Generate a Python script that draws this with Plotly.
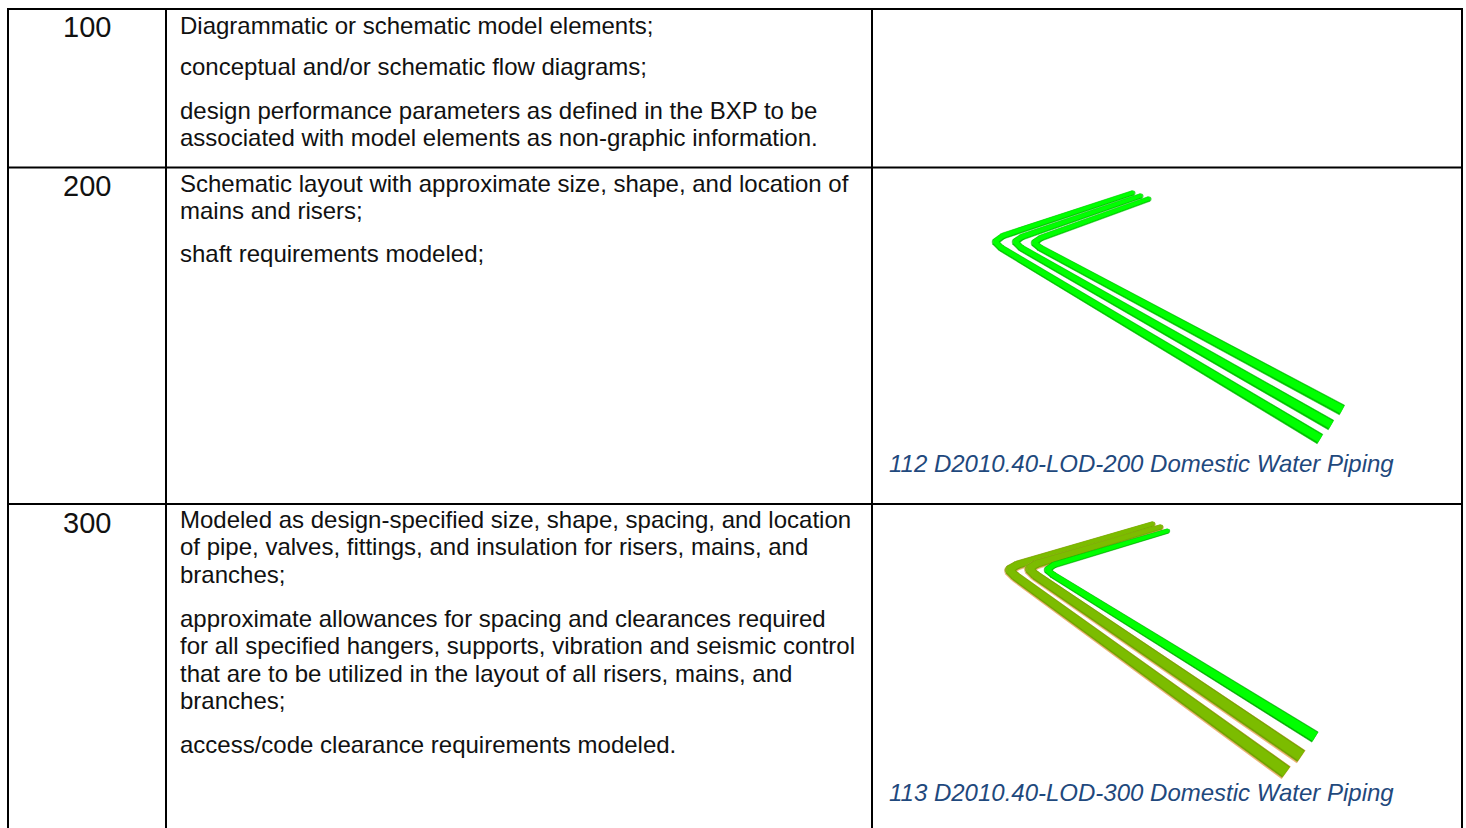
import plotly.graph_objects as go

W, H = 1466, 828
FONT = "Liberation Sans, Arial, sans-serif"

# table structure
border_x = [8, 166, 872, 1462]
border_y = [9, 167.5, 504]

levels = ["100", "200", "300"]
level_x = [87, 87, 87]
level_y = [27, 186, 523]

body_lines = [
    "Diagrammatic or schematic model elements;",
    "conceptual and/or schematic flow diagrams;",
    "design performance parameters as defined in the BXP to be",
    "associated with model elements as non-graphic information.",
    "Schematic layout with approximate size, shape, and location of",
    "mains and risers;",
    "shaft requirements modeled;",
    "Modeled as design-specified size, shape, spacing, and location",
    "of pipe, valves, fittings, and insulation for risers, mains, and",
    "branches;",
    "approximate allowances for spacing and clearances required",
    "for all specified hangers, supports, vibration and seismic control",
    "that are to be utilized in the layout of all risers, mains, and",
    "branches;",
    "access/code clearance requirements modeled.",
]
body_y = [25, 66, 110, 137, 183, 210, 253, 519, 546, 574, 618, 645, 673, 700, 744]

captions = ["112 D2010.40-LOD-200 Domestic Water Piping",
            "113 D2010.40-LOD-300 Domestic Water Piping"]
caption_y = [463, 792]

# pipes: centre-lines (start, before bend, bend, after bend, end) and widths there
pipes_200_x = [[1133, 1003, 995, 1001, 1320], [1141, 1022, 1015, 1021, 1331], [1149, 1041, 1034, 1040, 1342]]
pipes_200_y = [[193, 236, 242, 248, 439], [196, 237, 242, 248, 425], [199, 238, 243, 248, 410]]
pipes_200_w = [[5, 6, 6.5, 6.5, 11], [5, 6, 6.5, 6.5, 11], [5, 6, 6.5, 6.5, 11]]
pipes_300_x = [[1153, 1017, 1009, 1015, 1286], [1161, 1036, 1029, 1035, 1301], [1168, 1054, 1047, 1053, 1315]]
pipes_300_y = [[524, 565, 570, 576, 772], [527, 564, 569, 575, 756], [531, 565, 570, 575, 737]]
pipes_300_w = [[5.5, 9, 10, 10, 15], [5.5, 9, 10, 10, 15], [4.5, 6, 6.5, 6.5, 12]]
pipes_300_kind = ["olive", "olive", "green"]

GREEN_EDGE, GREEN_CORE = "#00bf00", "#00ff00"
OLIVE_EDGE, OLIVE_CORE, OLIVE_HALO = "#6fa000", "#7cbc00", "#e8b070"


def leg(x0, y0, w0, x1, y1, w1):
    dx, dy = x1 - x0, y1 - y0
    n = (dx * dx + dy * dy) ** 0.5
    nx, ny = -dy / n, dx / n
    return ([x0 + nx * w0 / 2, x1 + nx * w1 / 2, x1 - nx * w1 / 2, x0 - nx * w0 / 2, x0 + nx * w0 / 2],
            [y0 + ny * w0 / 2, y1 + ny * w1 / 2, y1 - ny * w1 / 2, y0 - ny * w0 / 2, y0 + ny * w0 / 2])


def tube(fig, px, py, pw, scale, color, shift=0):
    for i in range(len(px) - 1):
        x, y = leg(px[i], py[i], pw[i] * scale, px[i + 1], py[i + 1], pw[i + 1] * scale)
        fig.add_trace(go.Scatter(x=x, y=[v + shift for v in y], mode="lines",
                                 fill="toself", fillcolor=color,
                                 line=dict(color=color, width=0.5),
                                 hoverinfo="skip", showlegend=False))
    fig.add_trace(go.Scatter(x=px[:-1], y=[v + shift for v in py[:-1]], mode="markers",
                             marker=dict(color=color, line=dict(width=0),
                                         size=[w * scale for w in pw[:-1]]),
                             hoverinfo="skip", showlegend=False))


fig = go.Figure()

for px, py, pw in zip(pipes_200_x, pipes_200_y, pipes_200_w):
    tube(fig, px, py, pw, 1.0, GREEN_EDGE)
    tube(fig, px, py, pw, 0.72, GREEN_CORE, -0.4)

for px, py, pw, kind in zip(pipes_300_x, pipes_300_y, pipes_300_w, pipes_300_kind):
    if kind == "olive":
        tube(fig, px, py, pw, 1.0, OLIVE_HALO, 0.7)
        tube(fig, px, py, pw, 0.88, OLIVE_EDGE)
        tube(fig, px, py, pw, 0.7, OLIVE_CORE, -0.3)
    else:
        tube(fig, px, py, pw, 1.0, "#00a800")
        tube(fig, px, py, pw, 0.8, GREEN_CORE, -0.3)

# table rules
for bx in border_x:
    fig.add_trace(go.Scatter(x=[bx, bx], y=[border_y[0] - 1, H], mode="lines",
                             line=dict(color="#000000", width=2),
                             hoverinfo="skip", showlegend=False))
for by in border_y:
    fig.add_trace(go.Scatter(x=[border_x[0] - 1, border_x[-1] + 1], y=[by, by], mode="lines",
                             line=dict(color="#000000", width=2),
                             hoverinfo="skip", showlegend=False))

annotations = []
for t, x, y in zip(levels, level_x, level_y):
    annotations.append(dict(x=x, y=y, text=t, xanchor="center", yanchor="middle",
                            showarrow=False, font=dict(family=FONT, size=29, color="#111111")))
for t, y in zip(body_lines, body_y):
    annotations.append(dict(x=178, y=y, text=t, xanchor="left", yanchor="middle",
                            showarrow=False, font=dict(family=FONT, size=24, color="#111111")))
for t, y in zip(captions, caption_y):
    annotations.append(dict(x=887, y=y, text="<i>%s</i>" % t, xanchor="left", yanchor="middle",
                            showarrow=False, font=dict(family=FONT, size=24, color="#1f497d")))

fig.update_layout(
    width=W, height=H, autosize=False,
    margin=dict(l=0, r=0, t=0, b=0),
    paper_bgcolor="#ffffff", plot_bgcolor="#ffffff",
    xaxis=dict(range=[0, W], visible=False, fixedrange=True),
    yaxis=dict(range=[H, 0], visible=False, fixedrange=True),
    annotations=annotations,
    showlegend=False,
)
fig.write_html("out.html", config={"displayModeBar": False},
               post_script="document.body.style.margin='0';")
